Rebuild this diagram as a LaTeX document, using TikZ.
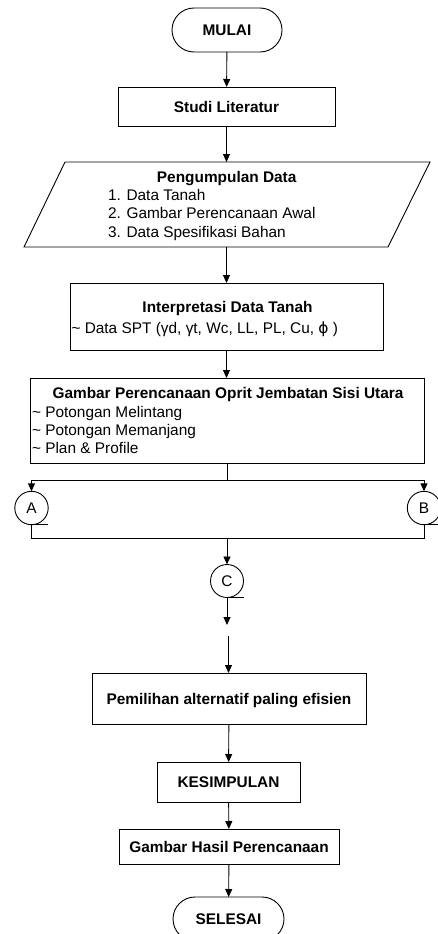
\documentclass[tikz,border=0pt]{standalone}
\usepackage{fontspec}
\setmainfont{Liberation Sans}
\newfontfamily\dvsans{DejaVu Sans}
\usetikzlibrary{arrows.meta}
\begin{document}
\begin{tikzpicture}[x=1pt,y=-1pt,
  every node/.style={font=\fontsize{15.4}{18}\selectfont, inner sep=0pt, outer sep=0pt},
  shp/.style={draw, line width=0.9pt},
  term/.style={shp, rounded corners=22pt, minimum width=110pt, minimum height=44pt},
  conn/.style={shp, circle, minimum size=33.4pt},
  tb/.style={anchor=base, font=\fontsize{15.4}{18}\selectfont\bfseries},
  tl/.style={anchor=base west},
  ln/.style={line width=0.9pt},
  arr/.style={ln, -{Triangle[length=8pt,width=7pt]}}]
\useasboundingbox (0,0) rectangle (437,934);

% shapes
\node[term] (mulai) at (227,30) {};
\node[shp, minimum width=217pt, minimum height=39pt] (studi) at (226.5,106.5) {};
\node[minimum width=300pt, minimum height=85pt] (pd) at (226.75,204.5) {};
\draw[ln] (65,162) -- (430,162) -- (388,247) -- (24,247) -- cycle;
\node[shp, minimum width=313pt, minimum height=67pt] (interp) at (226.5,316.5) {};
\node[shp, minimum width=394pt, minimum height=85pt] (gambar) at (227,420.5) {};
\node[conn] (A) at (31.5,508) {A};
\node[conn] (B) at (424,508) {B};
\node[conn, minimum size=33pt] (C) at (227,581) {C};
\node[shp, minimum width=274pt, minimum height=51pt] (pm) at (229,698.5) {};
\node[shp, minimum width=143pt, minimum height=40pt] (kes) at (228.5,782) {};
\node[shp, minimum width=220pt, minimum height=35pt] (ghp) at (229,846.5) {};
\node[term, minimum width=111pt] (sel) at (228.5,919) {};

% texts
\node[tb] (t1) at (227,35.5) {MULAI};
\node[tb] (t2) at (226.5,112) {Studi Literatur};
\node[tb] (t3) at (226.7,182) {Pengumpulan Data};
\node[tl] (t4) at (108,200) {1. Data Tanah};
\node[tl] (t5) at (108,218.5) {2. Gambar Perencanaan Awal};
\node[tl] (t6) at (108,237) {3. Data Spesifikasi Bahan};
\node[tb] (t7) at (227.5,312) {Interpretasi Data Tanah};
\node[tl] (t8) at (71.5,333) {\char`\~\ Data SPT (γd, γt, Wc, LL, PL, Cu, {\dvsans ϕ} )};
\node[tb] (t9) at (228,398.5) {Gambar Perencanaan Oprit Jembatan Sisi Utara};
\node[tl] (t10) at (32,417) {\char`\~\ Potongan Melintang};
\node[tl] (t11) at (32,435) {\char`\~\ Potongan Memanjang};
\node[tl] (t12) at (32,453) {\char`\~\ Plan \& Profile};
\node[tb] (t13) at (229,704.5) {Pemilihan alternatif paling efisien};
\node[tb] (t14) at (228.5,787) {KESIMPULAN};
\node[tb] (t15) at (229,852) {Gambar Hasil Perencanaan};
\node[tb] (t16) at (228.5,924.5) {SELESAI};

% connectors
\coordinate (j1) at (227,480);
\coordinate (j2) at (227,538);
\coordinate (cend) at (227,625);
\coordinate (cstart) at (228.5,636);
\draw[arr] (mulai) -- (studi);
\draw[arr] (studi) -- (226.5,162);
\draw[arr] (226.5,247) -- (interp);
\draw[arr] (interp) -- (gambar.north -| interp.south);
\draw[ln] (gambar.south) -- (j1);
\draw[arr] (j1) -| (A.north);
\draw[arr] (j1) -| (B.north);
\draw[ln] (A.south) -- ++(16.5,0);
\draw[ln] (B.south) -- ++(16.5,0);
\draw[ln] (A.south) |- (j2);
\draw[ln] (B.south) |- (j2);
\draw[arr] (j2) -- (C.north);
\draw[ln] (C.south) -- ++(16.5,0);
\draw[arr] (C.south) -- (cend);
\draw[arr] (cstart) -- (pm.north -| cstart);
\draw[arr] (pm) -- (kes);
\draw[arr] (kes) -- (ghp);
\draw[arr] (ghp) -- (sel);
\end{tikzpicture}
\end{document}
